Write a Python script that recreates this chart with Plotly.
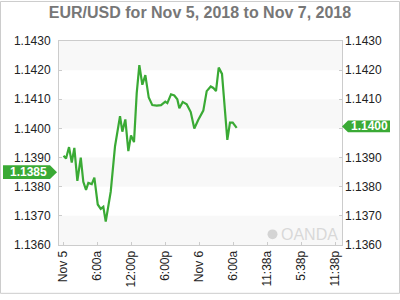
import plotly.graph_objects as go

# ---- data (hours since Nov 5 00:00, EUR/USD price) ----
hours = [0.0, 0.44, 0.97, 1.45, 1.91, 2.44, 3.04, 3.49, 3.97, 4.38, 4.98, 5.44,
         6.04, 6.56, 7.02, 7.45, 8.33, 9.09, 9.97, 10.38, 10.91, 11.44, 11.91, 12.44,
         12.92, 13.38, 13.91, 14.44, 15.04, 15.67, 16.45, 17.21, 17.96, 18.32, 18.97,
         19.55, 20.08, 20.44, 21.04, 21.74, 22.45, 23.08, 23.79, 24.67, 25.27, 25.98,
         26.44, 26.91, 27.39, 27.97, 28.91, 29.38, 29.86, 30.56]
price = [1.13906, 1.13897, 1.13936, 1.13883, 1.13933, 1.13820, 1.13900, 1.13817,
         1.13789, 1.13813, 1.13809, 1.13831, 1.13739, 1.13724, 1.13731, 1.13680,
         1.13783, 1.13939, 1.14042, 1.13989, 1.14031, 1.13922, 1.13976, 1.13953,
         1.14122, 1.14217, 1.14150, 1.14183, 1.14106, 1.14080, 1.14078, 1.14080,
         1.14092, 1.14087, 1.14117, 1.14113, 1.14100, 1.14069, 1.14091, 1.14083,
         1.14056, 1.14000, 1.14030, 1.14061, 1.14128, 1.14144, 1.14139, 1.14128,
         1.14209, 1.14187, 1.13961, 1.14020, 1.14020, 1.14002]
open_price = 1.1385

x_tickvals = [0, 6, 12, 18, 24, 30, 36, 42, 48]
x_ticktext = ["Nov 5", "6:00a", "12:00p", "6:00p", "Nov 6", "6:00a", "11:38a", "5:38p", "11:38p"]
y_tickvals = [1.1360, 1.1370, 1.1380, 1.1390, 1.1400, 1.1410, 1.1420, 1.1430]
y_ticktext = ["%.4f" % v for v in y_tickvals]
band_starts = [1.1360, 1.1380, 1.1400, 1.1420]

title = "EUR/USD for Nov 5, 2018 to Nov 7, 2018"

GREEN = "#3aaa35"
FRAME = "#cccccc"
FONT = "Liberation Sans, Arial, sans-serif"

W, H = 400, 300
L, R, T, B = 59, 58, 41, 50
PW = W - L - R
PH = H - T - B
X_RANGE = [-0.8, 49.15]
Y_RANGE = [1.1360, 1.1430]


def px_x(px):
    return (px - L) / PW


def dy(pxs):
    return pxs * (Y_RANGE[1] - Y_RANGE[0]) / PH


last = price[-1]
last_label = "%.4f" % last
# the right-hand tick label hidden under the last-price tag
y2_ticktext = ["" if t == last_label else t for t in y_ticktext]

fig = go.Figure()
fig.add_trace(go.Scatter(x=hours, y=price, mode="lines",
                         line=dict(color=GREEN, width=2.2), hoverinfo="skip",
                         showlegend=False))
fig.add_trace(go.Scatter(x=hours, y=price, mode="lines", yaxis="y2",
                         line=dict(color="rgba(0,0,0,0)", width=0), hoverinfo="skip",
                         showlegend=False))

shapes = []
for b in band_starts:
    shapes.append(dict(type="rect", xref="paper", yref="y", x0=0, x1=1, y0=b, y1=b + 0.001,
                       fillcolor="#f8f8f8", line=dict(width=0), layer="below"))

# outer border
bx0, bx1 = px_x(0.5), px_x(399.5)
by0 = -(299.5 - (T + PH)) / PH
by1 = (T + PH - 0.5) / PH
shapes.append(dict(type="rect", xref="paper", yref="paper", x0=bx0, x1=bx1, y0=by0, y1=by1,
                   line=dict(color=FRAME, width=1)))

# left price tag (open)
hh = dy(7)
yc = open_price
path = "M {a},{t} L {b},{t} L {c},{m} L {b},{bt} L {a},{bt} Z".format(
    a=px_x(3), b=px_x(50), c=px_x(57), t=yc + hh, m=yc, bt=yc - hh)
shapes.append(dict(type="path", xref="paper", yref="y", path=path,
                   fillcolor=GREEN, line=dict(width=0)))

# right price tag (last)
yc2 = last + dy(1.5)
hh2 = dy(6)
path2 = "M {c},{m} L {b},{t} L {a},{t} L {a},{bt} L {b},{bt} Z".format(
    c=px_x(342), b=px_x(348), a=px_x(390), t=yc2 + hh2, m=yc2, bt=yc2 - hh2)
shapes.append(dict(type="path", xref="paper", yref="y", path=path2,
                   fillcolor=GREEN, line=dict(width=0)))

# OANDA logo circle
shapes.append(dict(type="circle", xref="paper", yref="paper",
                   x0=px_x(267.5), x1=px_x(277.5), y0=(T + PH - 244) / PH, y1=(T + PH - 234) / PH,
                   fillcolor="#d4d4d4", line=dict(width=0)))

annotations = [
    dict(text="%.4f" % open_price, xref="paper", yref="y", x=px_x(28.5), y=open_price,
         showarrow=False, font=dict(family=FONT, size=12, color="white", weight="bold"),
         xanchor="center", yanchor="middle"),
    dict(text=last_label, xref="paper", yref="y", x=px_x(369.5), y=yc2,
         showarrow=False, font=dict(family=FONT, size=12, color="white", weight="bold"),
         xanchor="center", yanchor="middle"),
    dict(text="OANDA", xref="paper", yref="paper", x=px_x(279), y=(T + PH - 239) / PH,
         showarrow=False, font=dict(family=FONT, size=16, color="#d8d8d8"),
         xanchor="left", yanchor="middle"),
]

fig.update_layout(
    width=W, height=H,
    margin=dict(l=L, r=R, t=T, b=B, pad=0),
    paper_bgcolor="white", plot_bgcolor="white",
    title=dict(text="<b>" + title + "</b>", x=0.5, xref="container", xanchor="center",
               y=1 - 12 / H, yref="container", yanchor="middle",
               font=dict(family=FONT, size=16, color="#777777")),
    xaxis=dict(range=X_RANGE, tickvals=x_tickvals, ticktext=x_ticktext, tickangle=-90,
               showgrid=False, zeroline=False, showline=True, mirror=True, linecolor=FRAME,
               linewidth=1, ticks="inside", ticklen=3, tickcolor=FRAME,
               tickfont=dict(family=FONT, size=12, color="#222222"), fixedrange=True),
    yaxis=dict(range=Y_RANGE, tickvals=y_tickvals, ticktext=y_ticktext, showgrid=False,
               zeroline=False, showline=True, mirror=True, linecolor=FRAME, linewidth=1,
               ticks="inside", ticklen=3, tickcolor=FRAME, ticklabelstandoff=5,
               tickfont=dict(family=FONT, size=12, color="#222222")),
    yaxis2=dict(range=Y_RANGE, tickvals=y_tickvals, ticktext=y2_ticktext, overlaying="y",
                side="right", showgrid=False, zeroline=False, showline=False,
                ticks="inside", ticklen=3, tickcolor=FRAME, ticklabelstandoff=2,
                tickfont=dict(family=FONT, size=12, color="#222222")),
    shapes=shapes, annotations=annotations, showlegend=False,
)

fig.write_html("out.html")
